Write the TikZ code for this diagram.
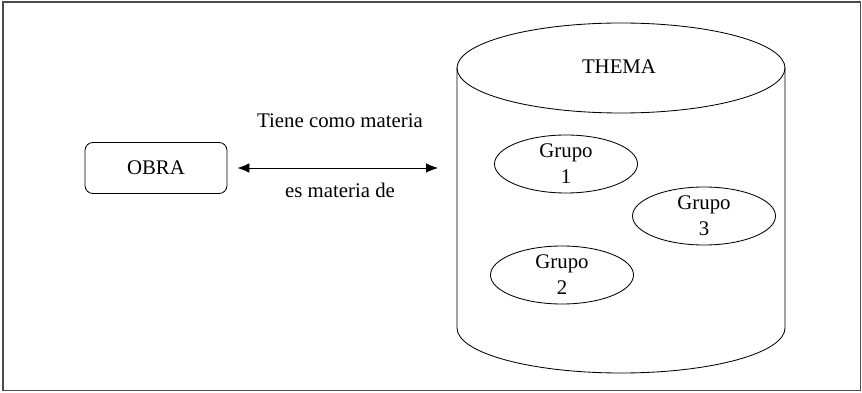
\documentclass[tikz,border=0pt]{standalone}
\usepackage{fontspec}
\setmainfont{Liberation Serif}
\usepackage{tikz}
\usetikzlibrary{shapes.geometric}
\usetikzlibrary{arrows.meta}

\begin{document}
\begin{tikzpicture}[x=0.25mm, y=0.25mm, line width=0.6pt, font=\fontsize{14.8}{18.5}\selectfont,
  main/.style = {draw, rectangle, rounded corners=2mm, minimum width=35.5mm, minimum height=12.75mm},
  grp/.style = {draw, ellipse, align=center, inner sep=0pt, minimum width=35.75mm, minimum height=14.5mm},
  lbl/.style = {anchor=base, inner sep=0pt}]
\useasboundingbox (0,0) rectangle (862,392);
\draw[gray!60!black, line width=0.45mm] (3,1.5) rectangle (860.5,390);

% cylinder
\draw (457,324) -- (457,64) arc[start angle=180, end angle=360, x radius=164, y radius=45] -- (785,324);
\draw (621,324) ellipse [x radius=164, y radius=45];

\node[main] (obra) at (156,224) {OBRA};
\node (thema) at (619,325.5) {THEMA};
\node[grp] (g1) at (566,228) {Grupo\\1};
\node[grp] (g2) at (562,117) {Grupo\\2};
\node[grp] (g3) at (704,176) {Grupo\\3};
\coordinate (side) at (457,224);

\node[lbl] (tiene) at (340,264) {Tiene como materia};
\node[lbl] (es) at (340,194) {es materia de};

\draw[{Latex[length=3mm,width=2.4mm]}-{Latex[length=3mm,width=2.4mm]}, shorten <=2.5mm, shorten >=4.75mm] (obra) -- (side);
\end{tikzpicture}
\end{document}
